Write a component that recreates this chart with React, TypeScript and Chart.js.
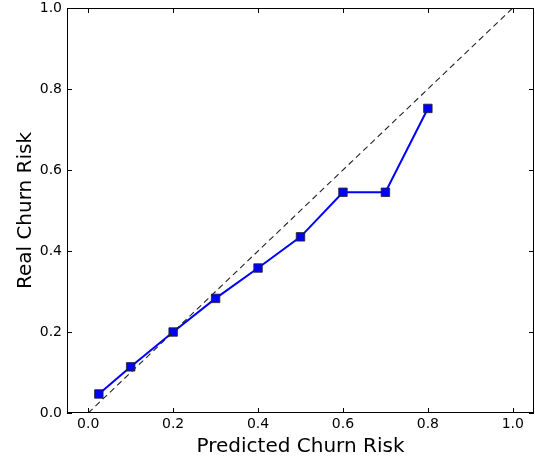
import React, { useEffect, useRef } from "react";
import { Chart, registerables } from "chart.js";

Chart.register(...registerables);

const predicted = [0.025, 0.1, 0.2, 0.3, 0.4, 0.5, 0.6, 0.7, 0.8];
const real = [0.047, 0.114, 0.2, 0.283, 0.358, 0.435, 0.545, 0.545, 0.752];
const diagX = [0, 1];
const diagY = [0, 1];
const xTicks = [0.0, 0.2, 0.4, 0.6, 0.8, 1.0];
const yTicks = [0.0, 0.2, 0.4, 0.6, 0.8, 1.0];
const xTitle = "Predicted Churn Risk";
const yTitle = "Real Churn Risk";

const FONT = "'DejaVu Sans', sans-serif";

const framePlugin = {
  id: "frameTicks",
  afterDatasetsDraw(chart: any) {
    const { ctx, chartArea: a, scales } = chart;
    ctx.save();
    ctx.strokeStyle = "#000";
    ctx.lineWidth = 1;
    ctx.beginPath();
    const L = 5;
    for (const t of scales.x.ticks) {
      const px = Math.round(scales.x.getPixelForValue(t.value)) + 0.5;
      ctx.moveTo(px, a.bottom);
      ctx.lineTo(px, a.bottom - L);
      ctx.moveTo(px, a.top);
      ctx.lineTo(px, a.top + L);
    }
    for (const t of scales.y.ticks) {
      const py = Math.round(scales.y.getPixelForValue(t.value)) + 0.5;
      ctx.moveTo(a.left, py);
      ctx.lineTo(a.left + L, py);
      ctx.moveTo(a.right, py);
      ctx.lineTo(a.right - L, py);
    }
    ctx.stroke();
    ctx.strokeRect(a.left + 0.5, a.top + 0.5, a.right - a.left - 1, a.bottom - a.top - 1);
    ctx.restore();
  },
};

export default function App() {
  const ref = useRef<HTMLCanvasElement>(null);
  useEffect(() => {
    const chart = new Chart(ref.current!, {
      type: "line",
      data: {
        datasets: [
          {
            data: diagX.map((x, i) => ({ x, y: diagY[i] })),
            borderColor: "#222",
            borderWidth: 1.1,
            borderDash: [6, 4],
            pointRadius: 0,
            fill: false,
          },
          {
            data: predicted.map((x, i) => ({ x, y: real[i] })),
            borderColor: "#0000ff",
            borderWidth: 2,
            pointStyle: "rect",
            pointRadius: 6,
            pointBackgroundColor: "#0000ff",
            pointBorderColor: "#222",
            pointBorderWidth: 0.8,
            fill: false,
          },
        ],
      },
      options: {
        responsive: false,
        animation: false,
        layout: { autoPadding: false, padding: { top: 8, right: 1, left: 0, bottom: 0 } },
        plugins: { legend: { display: false }, tooltip: { enabled: false } },
        scales: {
          x: {
            type: "linear",
            min: -0.05,
            max: 1.05,
            afterBuildTicks: (s: any) => {
              s.ticks = xTicks.map((v) => ({ value: v }));
            },
            afterFit: (s: any) => {
              s.height = 46;
              s.paddingLeft = 0;
              s.paddingRight = 0;
            },
            grid: { display: false, drawTicks: false },
            border: { display: false },
            ticks: {
              padding: 3,
              color: "#000",
              font: { family: FONT, size: 14 },
              callback: (v: any) => Number(v).toFixed(1),
            },
            title: {
              display: true,
              text: xTitle,
              color: "#000",
              font: { family: FONT, size: 20 },
              padding: { top: 0, bottom: 0 },
            },
          },
          y: {
            type: "linear",
            min: 0,
            max: 1,
            afterBuildTicks: (s: any) => {
              s.ticks = yTicks.map((v) => ({ value: v }));
            },
            afterFit: (s: any) => {
              s.width = 67;
              s.paddingTop = 0;
              s.paddingBottom = 0;
            },
            grid: { display: false, drawTicks: false },
            border: { display: false },
            ticks: {
              padding: 5,
              color: "#000",
              font: { family: FONT, size: 14 },
              callback: (v: any) => Number(v).toFixed(1),
            },
            title: {
              display: true,
              text: yTitle,
              color: "#000",
              font: { family: FONT, size: 20 },
              padding: { top: 14, bottom: 0 },
            },
          },
        },
      },
      plugins: [framePlugin],
    });
    return () => chart.destroy();
  }, []);
  return (
    <div style={{ position: "fixed", left: 0, top: 0, width: 535, height: 459, background: "#fff" }}>
      <canvas ref={ref} width={535} height={459} style={{ display: "block", width: 535, height: 459 }} />
    </div>
  );
}
